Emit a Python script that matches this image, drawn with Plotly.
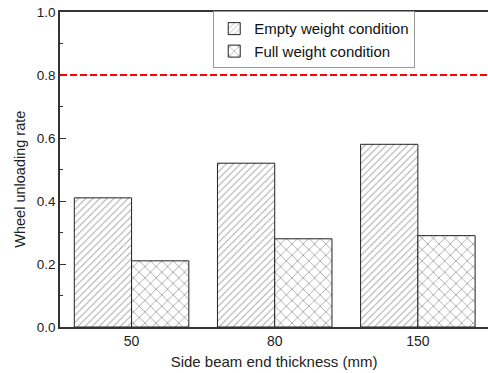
import plotly.graph_objects as go

categories = ["50", "80", "150"]
empty_vals = [0.41, 0.52, 0.58]
full_vals = [0.21, 0.28, 0.29]
limit_value = 0.8
y_ticks = [0.0, 0.2, 0.4, 0.6, 0.8, 1.0]

FONT = "Liberation Sans, Arial, sans-serif"

fig = go.Figure()
fig.add_trace(go.Bar(
    x=categories, y=empty_vals, name="Empty weight condition",
    marker=dict(color="white", line=dict(color="#222", width=1),
                pattern=dict(shape="/", size=5, solidity=0.18, fgcolor="#444", bgcolor="white")),
))
fig.add_trace(go.Bar(
    x=categories, y=full_vals, name="Full weight condition",
    marker=dict(color="white", line=dict(color="#222", width=1),
                pattern=dict(shape="x", size=8, solidity=0.2, fgcolor="#444", bgcolor="white")),
))

fig.add_shape(type="line", xref="paper", yref="y", x0=0, x1=1, y0=limit_value, y1=limit_value,
              line=dict(color="red", width=2, dash="7px,3px"))

fig.add_annotation(text="Wheel unloading rate", xref="paper", yref="paper",
                   x=-0.094, y=0.47, textangle=-90, showarrow=False,
                   xanchor="center", yanchor="middle",
                   font=dict(size=14.5, color="#222"))

fig.update_layout(
    width=488, height=373,
    margin=dict(l=60, r=0, t=12, b=46, autoexpand=False),
    plot_bgcolor="white", paper_bgcolor="white",
    barmode="group", bargap=0.2, bargroupgap=0,
    font=dict(family=FONT, size=13, color="#222"),
    legend=dict(x=0.358, y=1.002, xanchor="left", yanchor="top",
                bordercolor="#999", borderwidth=1, bgcolor="white",
                font=dict(size=15, color="#111"), tracegroupgap=0,
                itemwidth=30),
    xaxis=dict(range=[-0.5, 2.49], showline=True, linecolor="#333", linewidth=1.5,
               mirror=True, ticks="", showgrid=False, automargin=False,
               title=dict(text="Side beam end thickness (mm)", font=dict(size=15), standoff=9),
               tickfont=dict(size=14)),
    yaxis=dict(range=[0, 1.0], tickvals=y_ticks, ticktext=[f"{v:.1f}" for v in y_ticks],
               showline=True, linecolor="#333", linewidth=1.5, ticks="inside", ticklen=6,
               tickcolor="#333", showgrid=False, zeroline=False, automargin=False,
               ticklabeloverflow="allow",
               minor=dict(dtick=0.1, ticks="inside", ticklen=3, tickcolor="#333"),
               tickfont=dict(size=13.5)),
)

fig.write_html("out.html", config={"displayModeBar": False},
               post_script="document.body.style.margin='0';")
